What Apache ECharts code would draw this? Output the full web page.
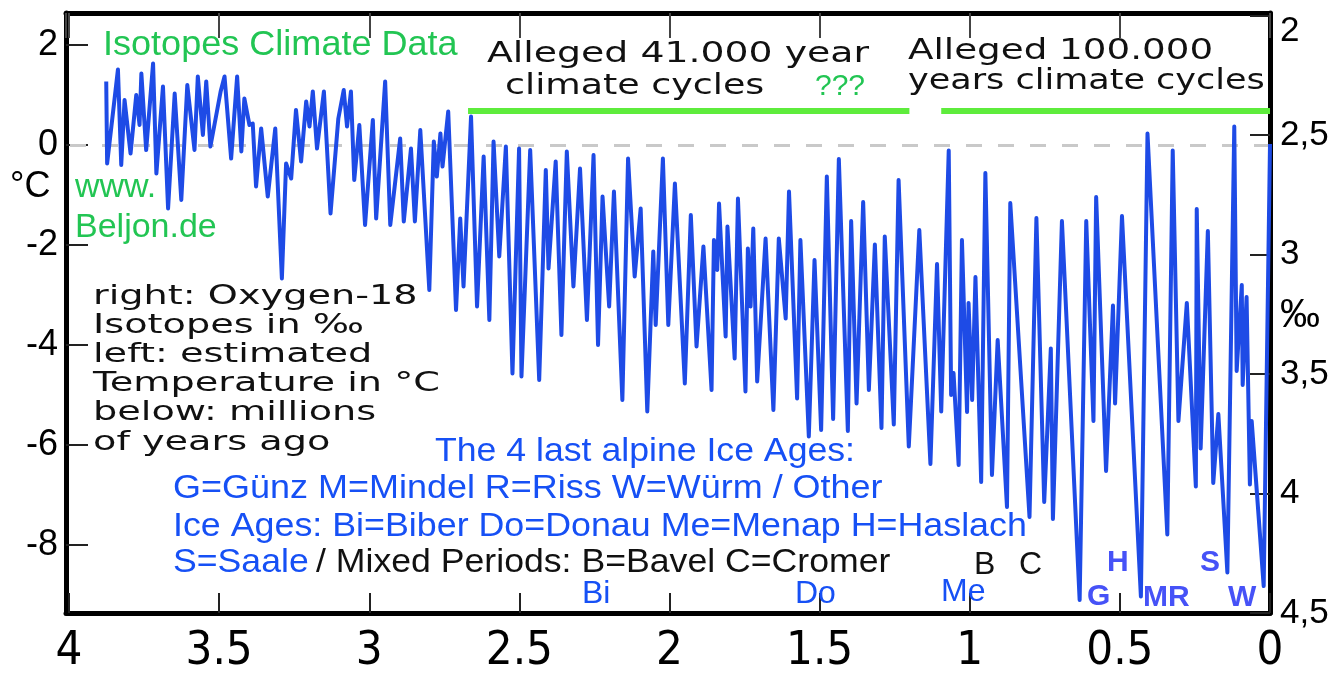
<!DOCTYPE html>
<html>
<head>
<meta charset="utf-8">
<title>Isotopes Climate Data</title>
<script src="https://cdn.jsdelivr.net/npm/echarts@6/dist/echarts.min.js"></script>
<style>
    html, body { margin: 0; padding: 0; background: #fff; }
    #chart { width: 1344px; height: 675px; }
</style>
</head>
<body>
<div id="chart"></div>
<script>
// millions of years ago
const ages = [
    3.876, 3.873, 3.837, 3.826, 3.815, 3.795, 3.776, 3.765, 3.759, 3.743,
    3.720, 3.709, 3.687, 3.670, 3.648, 3.626, 3.606, 3.582, 3.571, 3.554,
    3.543, 3.529, 3.495, 3.482, 3.460, 3.440, 3.426, 3.416, 3.399, 3.388,
    3.377, 3.360, 3.338, 3.313, 3.291, 3.277, 3.260, 3.244, 3.227, 3.210,
    3.199, 3.188, 3.174, 3.151, 3.129, 3.103, 3.085, 3.074, 3.061, 3.050,
    3.033, 3.014, 2.988, 2.977, 2.947, 2.930, 2.897, 2.885, 2.861, 2.848,
    2.830, 2.800, 2.785, 2.775, 2.763, 2.756, 2.737, 2.711, 2.697, 2.686,
    2.661, 2.641, 2.619, 2.600, 2.586, 2.567, 2.545, 2.523, 2.501, 2.493,
    2.464, 2.434, 2.412, 2.403, 2.379, 2.360, 2.342, 2.320, 2.298, 2.275,
    2.253, 2.238, 2.223, 2.201, 2.185, 2.157, 2.138, 2.116, 2.096, 2.074,
    2.054, 2.046, 2.022, 2.004, 1.982, 1.949, 1.929, 1.910, 1.887, 1.860,
    1.852, 1.841, 1.835, 1.813, 1.807, 1.783, 1.772, 1.747, 1.739, 1.730,
    1.721, 1.708, 1.680, 1.654, 1.636, 1.613, 1.602, 1.575, 1.564, 1.536,
    1.517, 1.495, 1.476, 1.455, 1.436, 1.406, 1.395, 1.377, 1.355, 1.336,
    1.316, 1.294, 1.283, 1.253, 1.237, 1.203, 1.168, 1.131, 1.109, 1.095,
    1.070, 1.062, 1.054, 1.037, 1.026, 1.009, 1.004, 0.992, 0.981, 0.962,
    0.948, 0.926, 0.907, 0.876, 0.865, 0.801, 0.778, 0.752, 0.730, 0.723,
    0.693, 0.634, 0.612, 0.588, 0.579, 0.546, 0.523, 0.516, 0.493, 0.430,
    0.408, 0.342, 0.324, 0.305, 0.277, 0.247, 0.244, 0.231, 0.207, 0.189,
    0.172, 0.142, 0.119, 0.111, 0.094, 0.091, 0.078, 0.067, 0.061, 0.021,
    0.000
];
// estimated temperature in °C
const temps = [
    1.27, -0.37, 1.51, -0.40, 0.90, -0.17, 1.00, 0.40, 1.43, -0.10,
    1.63, -0.57, 1.17, -1.27, 1.03, -1.10, 1.20, -0.10, 1.37, 0.20,
    1.27, -0.03, 1.07, 1.37, -0.27, 1.37, -0.13, 0.93, 0.40, 0.43,
    -0.83, 0.33, -1.03, 0.33, -2.67, -0.37, -0.67, 0.70, -0.33, 0.87,
    0.37, 1.07, -0.07, 1.07, -1.37, 0.53, 1.10, 0.37, 1.07, -0.70,
    0.40, -1.60, 0.50, -1.47, 1.27, -1.60, 0.13, -1.53, -0.07, -1.53,
    0.30, -2.90, 0.07, -0.63, 0.23, -0.43, 0.67, -3.30, -1.47, -2.83,
    0.57, -3.23, -0.23, -3.50, 0.07, -2.23, -0.03, -4.57, -0.07, -4.63,
    -0.10, -4.70, -0.50, -2.47, -0.33, -3.80, -0.13, -2.83, -0.47, -3.50,
    -0.20, -4.00, -1.03, -3.23, -0.93, -5.10, -0.27, -2.63, -1.27, -5.33,
    -2.13, -3.60, -0.27, -3.60, -0.77, -4.77, -1.40, -4.03, -2.03, -4.90,
    -1.90, -2.50, -1.17, -3.83, -1.63, -4.27, -1.07, -4.93, -2.07, -3.23,
    -1.67, -4.73, -1.87, -5.30, -1.87, -3.47, -0.93, -5.07, -1.90, -5.83,
    -2.30, -5.70, -0.63, -5.48, -0.28, -5.72, -1.52, -5.17, -1.14, -4.90,
    -1.99, -5.66, -1.83, -5.59, -0.70, -6.03, -1.70, -6.38, -2.38, -5.33,
    -0.11, -5.00, -4.56, -6.40, -1.90, -5.34, -3.16, -5.10, -2.64, -6.74,
    -0.56, -6.60, -3.90, -7.24, -1.16, -7.44, -1.46, -7.14, -4.07, -7.48,
    -1.52, -9.10, -1.52, -5.52, -1.04, -6.52, -3.21, -5.17, -1.42, -9.03,
    0.23, -7.79, -0.11, -5.52, -3.16, -6.83, -1.28, -6.07, -1.72, -6.76,
    -5.38, -8.55, 0.37, -4.52, -2.80, -4.80, -3.04, -6.79, -5.52, -8.82,
    0.02
];
// alleged climate cycle periods (from, to) in Myr, drawn at this temperature
const cycleSpans = [[2.671, 1.201], [1.095, 0]];
const cycleLevel = 0.69;

const blackFont = 'DejaVu Sans';
const armFont = 'Liberation Sans';

function txt(x, y, text, size, color, extra) {
    return Object.assign({
        type: 'text',
        x: x,
        y: y,
        z: 10,
        silent: true,
        style: {
            text: text,
            fontSize: size,
            fontFamily: armFont,
            fill: color,
            verticalAlign: 'middle'
        }
    }, extra || {});
}
function wide(x, y, text, size, sx) {
    return txt(x, y, text, size, '#111', { scaleX: sx, style: { text: text, fontSize: size, fontFamily: blackFont, fill: '#111', verticalAlign: 'middle' } });
}
function bold(x, y, text) {
    return txt(x, y, text, 30, '#4652f7', { style: { text: text, fontSize: 30, fontWeight: 'bold', fontFamily: armFont, fill: '#4652f7', verticalAlign: 'middle' } });
}

const green = '#22c553';
const blue = '#1650f5';

const chart = echarts.init(document.getElementById('chart'), null, { renderer: 'canvas' });
chart.setOption({
    animation: false,
    backgroundColor: '#fff',
    grid: { left: 66, right: 74, top: 13, bottom: 62 },
    xAxis: [
        {
            type: 'value',
            min: 0,
            max: 4.01,
            inverse: true,
            splitNumber: 8,
            splitLine: { show: false },
            axisLine: { onZero: false, lineStyle: { color: '#000', width: 5 } },
            axisTick: { inside: true, length: 20, lineStyle: { color: '#222', width: 2 } },
            axisLabel: {
                showMaxLabel: false,
                margin: 15,
                fontSize: 47,
                fontFamily: "'Liberation Sans Narrow', 'DejaVu Sans Condensed', 'Liberation Sans'",
                color: '#000'
            }
        },
        {
            type: 'value',
            position: 'top',
            min: 0,
            max: 4.01,
            inverse: true,
            splitNumber: 8,
            splitLine: { show: false },
            axisLine: { onZero: false, lineStyle: { color: '#000', width: 5 } },
            axisTick: { inside: true, length: 25, lineStyle: { color: '#444', width: 2 } },
            axisLabel: { show: false }
        }
    ],
    yAxis: [
        {
            type: 'value',
            min: -9.36,
            max: 2.64,
            splitNumber: 6,
            splitLine: { show: false },
            axisLine: { show: true, onZero: false, lineStyle: { color: '#000', width: 5 } },
            axisTick: { show: true, inside: true, length: 22, lineStyle: { color: '#222', width: 2 } },
            axisLabel: {
                showMinLabel: false,
                showMaxLabel: false,
                margin: 8,
                fontSize: 36,
                fontFamily: armFont,
                color: '#000'
            }
        },
        {
            type: 'value',
            position: 'right',
            min: 1.99,
            max: 4.5,
            inverse: true,
            splitNumber: 5,
            splitLine: { show: false },
            axisLine: { show: true, onZero: false, lineStyle: { color: '#000', width: 5 } },
            axisTick: { show: true, inside: true, length: 20, lineStyle: { color: '#222', width: 2 } },
            axisLabel: {
                showMinLabel: false,
                margin: 10,
                fontSize: 35,
                fontFamily: armFont,
                color: '#000',
                formatter(v) {
                    if (v === 2) {
                        return '{top|2}';
                    }
                    return String(v).replace('.', ',');
                },
                rich: {
                    top: { fontSize: 35, fontFamily: armFont, color: '#000', padding: [32, 0, 0, 0] }
                }
            }
        }
    ],
    series: [
        {
            // zero line and cycle bars, kept under the data line
            type: 'line',
            data: [],
            z: 1,
            markLine: {
                silent: true,
                z: 1,
                symbol: 'none',
                label: { show: false },
                data: [
                    { yAxis: 0, lineStyle: { color: '#c9c9c9', width: 3, type: [16, 16] } }
                ].concat(cycleSpans.map(s => [
                    { coord: [s[0], cycleLevel], lineStyle: { color: '#5eec3c', width: 6, type: 'solid' } },
                    { coord: [s[1], cycleLevel] }
                ]))
            }
        },
        {
            type: 'line',
            z: 3,
            data: ages.map((a, i) => [a, temps[i]]),
            showSymbol: false,
            symbol: 'none',
            lineStyle: { color: '#1e4be6', width: 4, join: 'round' }
        }
    ],
    graphic: [
        txt(103, 45, 'Isotopes Climate Data', 35, green, { scaleX: 1.03 }),
        txt(75, 188, 'www.', 34, green),
        txt(75, 228, 'Beljon.de', 34, green),
        txt(10, 187, '°C', 36, '#000'),
        txt(1280, 316, '‰', 40, '#000'),

        wide(487, 55, 'Alleged 41.000 year', 28, 1.35),
        wide(505, 87, 'climate cycles', 28, 1.3),
        txt(815, 87, '???', 30, green),
        wide(908, 52, 'Alleged 100.000', 28, 1.33),
        wide(908, 82, 'years climate cycles', 28, 1.25),

        wide(93, 297, 'right: Oxygen-18', 26, 1.47),
        wide(93, 326, 'Isotopes in ‰', 26, 1.47),
        wide(93, 355, 'left: estimated', 26, 1.47),
        wide(93, 384, 'Temperature in °C', 26, 1.47),
        wide(93, 413, 'below: millions', 26, 1.47),
        wide(93, 443, 'of years ago', 26, 1.47),

        txt(435, 452, 'The 4 last alpine Ice Ages:', 33, blue, { scaleX: 1.08 }),
        txt(173, 489, 'G=Günz M=Mindel R=Riss W=Würm / Other', 33, blue, { scaleX: 1.09 }),
        txt(173, 527, 'Ice Ages: Bi=Biber Do=Donau Me=Menap H=Haslach', 33, blue, { scaleX: 1.085 }),
        txt(173, 563, 'S=Saale', 33, blue, { scaleX: 1.08 }),
        txt(316, 563, '/ Mixed Periods: B=Bavel C=Cromer', 33, '#111', { scaleX: 1.08 }),

        txt(582, 594, 'Bi', 32, blue),
        txt(795, 594, 'Do', 32, blue),
        txt(941, 592, 'Me', 32, blue),
        txt(974, 565, 'B', 32, '#111'),
        txt(1019, 565, 'C', 32, '#111'),
        bold(1087, 597, 'G'),
        bold(1107, 563, 'H'),
        bold(1143, 598, 'MR'),
        bold(1200, 563, 'S'),
        bold(1228, 598, 'W')
    ]
});
</script>
</body>
</html>
